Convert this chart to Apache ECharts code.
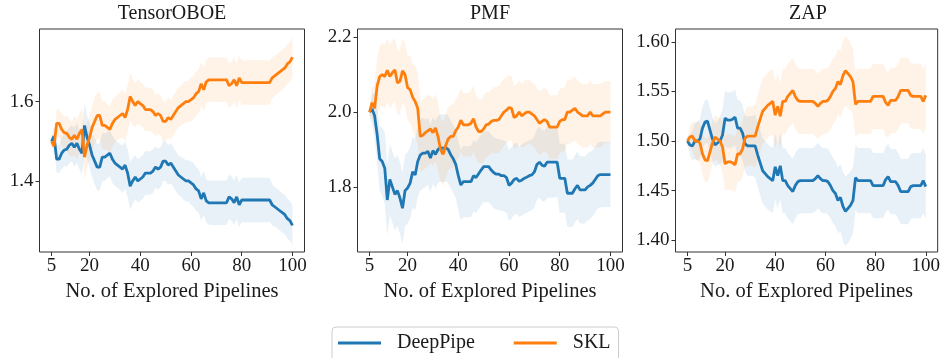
<!DOCTYPE html>
<html>
<head>
<meta charset="utf-8">
<script src="https://cdn.jsdelivr.net/npm/echarts@6/dist/echarts.min.js"></script>
<style>
html,body{margin:0;padding:0;background:#fff;}
#chart{width:943px;height:358px;}
</style>
</head>
<body>
<div id="chart"></div>
<script>
// x: number of explored pipelines (5..100)
const pipelines = Array.from({length: 96}, (_, i) => i + 5);
const xTicks = [5, 20, 40, 60, 80, 100];
const panelTitles = ['TensorOBOE', 'PMF', 'ZAP'];
const seriesNames = ['DeepPipe', 'SKL'];

// ---- TensorOBOE ----
const oboeSKL = [
  1.500,1.487,1.545,1.545,1.530,1.522,1.520,1.510,1.505,1.515,
  1.505,1.520,1.530,1.460,1.490,1.510,1.535,1.550,1.565,1.565,
  1.540,1.540,1.535,1.530,1.545,1.555,1.560,1.565,1.570,1.560,
  1.580,1.613,1.600,1.590,1.600,1.595,1.590,1.580,1.580,1.580,
  1.575,1.565,1.570,1.565,1.550,1.550,1.560,1.555,1.565,1.575,
  1.585,1.590,1.595,1.600,1.600,1.605,1.610,1.620,1.625,1.645,
  1.630,1.650,1.655,1.655,1.655,1.655,1.655,1.655,1.655,1.655,
  1.640,1.645,1.655,1.640,1.660,1.648,1.648,1.648,1.648,1.648,
  1.648,1.648,1.648,1.648,1.648,1.648,1.648,1.660,1.665,1.670,
  1.675,1.680,1.685,1.695,1.700,1.712];
const oboeDeepPipe = [
  1.500,1.513,1.455,1.455,1.470,1.478,1.480,1.490,1.495,1.485,
  1.495,1.480,1.470,1.540,1.510,1.490,1.465,1.450,1.435,1.435,
  1.460,1.460,1.465,1.470,1.455,1.445,1.440,1.435,1.430,1.440,
  1.420,1.387,1.400,1.410,1.400,1.405,1.410,1.420,1.420,1.420,
  1.425,1.435,1.430,1.435,1.450,1.450,1.440,1.445,1.435,1.425,
  1.415,1.410,1.405,1.400,1.400,1.395,1.390,1.380,1.375,1.355,
  1.370,1.350,1.345,1.345,1.345,1.345,1.345,1.345,1.345,1.345,
  1.360,1.355,1.345,1.360,1.340,1.352,1.352,1.352,1.352,1.352,
  1.352,1.352,1.352,1.352,1.352,1.352,1.352,1.340,1.335,1.330,
  1.325,1.320,1.315,1.305,1.300,1.288];
const oboeErr = [
  0.010,0.025,0.035,0.035,0.040,0.040,0.045,0.045,0.045,0.050,
  0.050,0.050,0.055,0.057,0.055,0.055,0.055,0.058,0.058,0.060,
  0.060,0.060,0.058,0.058,0.060,0.058,0.058,0.058,0.060,0.060,
  0.060,0.060,0.058,0.055,0.055,0.055,0.055,0.055,0.055,0.055,
  0.055,0.052,0.052,0.050,0.050,0.050,0.050,0.050,0.050,0.050,
  0.050,0.050,0.052,0.052,0.052,0.055,0.055,0.055,0.055,0.055,
  0.055,0.055,0.055,0.056,0.056,0.056,0.056,0.056,0.056,0.056,
  0.056,0.056,0.056,0.056,0.056,0.056,0.056,0.056,0.056,0.056,
  0.056,0.056,0.056,0.056,0.056,0.056,0.055,0.052,0.050,0.050,
  0.050,0.050,0.050,0.050,0.050,0.050];

// ---- PMF ----
const pmfSKL = [
  2.000,2.025,2.010,2.070,2.095,2.100,2.095,2.112,2.095,2.105,
  2.113,2.078,2.082,2.110,2.100,2.065,2.060,2.040,2.028,2.010,
  1.935,1.938,1.945,1.950,1.955,1.945,1.958,1.935,1.900,1.887,
  1.910,1.928,1.935,1.935,1.950,1.960,1.978,1.966,1.966,1.966,
  1.970,1.982,1.960,1.948,1.948,1.955,1.966,1.968,1.975,1.978,
  1.978,1.980,1.990,2.000,2.005,2.012,2.010,1.985,1.990,2.000,
  1.990,1.995,2.000,2.000,1.995,1.990,1.980,1.970,1.975,1.980,
  1.975,1.960,1.960,1.960,1.960,1.975,1.980,1.980,2.000,2.000,
  2.005,2.010,2.000,1.995,1.990,1.990,1.990,2.000,1.990,1.990,
  1.990,1.990,1.995,2.000,2.000,2.000];
const pmfDeepPipe = [
  2.000,2.008,1.990,1.940,1.875,1.868,1.850,1.765,1.820,1.800,
  1.780,1.790,1.770,1.743,1.790,1.797,1.810,1.840,1.832,1.868,
  1.885,1.890,1.890,1.895,1.877,1.897,1.887,1.900,1.905,1.903,
  1.905,1.900,1.886,1.875,1.860,1.830,1.805,1.814,1.814,1.814,
  1.814,1.830,1.825,1.835,1.845,1.854,1.854,1.854,1.845,1.838,
  1.834,1.834,1.830,1.830,1.825,1.804,1.810,1.820,1.823,1.815,
  1.818,1.823,1.826,1.830,1.832,1.840,1.860,1.866,1.858,1.855,
  1.866,1.866,1.866,1.866,1.866,1.823,1.823,1.823,1.783,1.783,
  1.783,1.795,1.804,1.792,1.792,1.792,1.800,1.804,1.810,1.820,
  1.830,1.833,1.833,1.833,1.833,1.833];
const pmfSKLErr = [
  0.010,0.040,0.060,0.075,0.080,0.085,0.085,0.085,0.085,0.085,
  0.085,0.085,0.085,0.085,0.085,0.085,0.090,0.090,0.095,0.095,
  0.095,0.095,0.095,0.095,0.090,0.090,0.090,0.090,0.085,0.085,
  0.085,0.085,0.085,0.085,0.085,0.085,0.085,0.085,0.085,0.085,
  0.088,0.088,0.085,0.085,0.085,0.088,0.088,0.085,0.085,0.088,
  0.088,0.090,0.090,0.090,0.088,0.088,0.085,0.085,0.085,0.085,
  0.085,0.088,0.088,0.085,0.085,0.085,0.085,0.085,0.085,0.085,
  0.085,0.085,0.085,0.085,0.085,0.085,0.085,0.085,0.085,0.085,
  0.085,0.085,0.085,0.085,0.085,0.085,0.085,0.085,0.085,0.085,
  0.085,0.085,0.085,0.083,0.083,0.083];
const pmfDeepPipeErr = [
  0.010,0.040,0.060,0.075,0.085,0.090,0.095,0.095,0.095,0.095,
  0.095,0.095,0.095,0.095,0.095,0.095,0.095,0.095,0.095,0.095,
  0.095,0.095,0.090,0.090,0.090,0.090,0.090,0.090,0.090,0.090,
  0.090,0.090,0.090,0.090,0.090,0.092,0.095,0.095,0.095,0.095,
  0.095,0.095,0.095,0.095,0.095,0.095,0.095,0.095,0.095,0.095,
  0.095,0.095,0.095,0.095,0.095,0.095,0.095,0.095,0.095,0.095,
  0.095,0.095,0.095,0.095,0.095,0.095,0.095,0.095,0.095,0.095,
  0.095,0.095,0.095,0.095,0.092,0.092,0.092,0.092,0.090,0.090,
  0.090,0.090,0.090,0.090,0.090,0.090,0.090,0.090,0.088,0.088,
  0.088,0.088,0.087,0.087,0.087,0.087];

// ---- ZAP ----
const zapSKL = [
  1.500,1.504,1.505,1.500,1.500,1.498,1.487,1.481,1.480,1.489,
  1.498,1.504,1.502,1.500,1.494,1.477,1.479,1.479,1.478,1.476,
  1.487,1.487,1.492,1.503,1.505,1.505,1.505,1.505,1.514,1.522,
  1.530,1.533,1.536,1.538,1.540,1.526,1.535,1.525,1.540,1.540,
  1.545,1.548,1.551,1.545,1.541,1.540,1.540,1.540,1.540,1.540,
  1.540,1.538,1.535,1.538,1.540,1.540,1.541,1.545,1.550,1.553,
  1.560,1.557,1.566,1.571,1.568,1.565,1.560,1.537,1.540,1.540,
  1.540,1.540,1.540,1.540,1.545,1.545,1.545,1.545,1.545,1.539,
  1.536,1.541,1.541,1.541,1.545,1.551,1.551,1.551,1.551,1.546,
  1.545,1.545,1.545,1.545,1.540,1.546];
const zapDeepPipe = [
  1.500,1.496,1.495,1.500,1.500,1.502,1.513,1.519,1.520,1.511,
  1.502,1.496,1.498,1.500,1.506,1.523,1.521,1.521,1.522,1.524,
  1.513,1.513,1.508,1.497,1.495,1.495,1.495,1.495,1.486,1.478,
  1.470,1.467,1.464,1.462,1.460,1.474,1.465,1.475,1.460,1.460,
  1.455,1.452,1.449,1.455,1.459,1.460,1.460,1.460,1.460,1.460,
  1.460,1.462,1.465,1.462,1.460,1.460,1.459,1.455,1.450,1.447,
  1.440,1.443,1.434,1.429,1.432,1.435,1.440,1.463,1.460,1.460,
  1.460,1.460,1.460,1.460,1.455,1.455,1.455,1.455,1.455,1.461,
  1.464,1.459,1.459,1.459,1.455,1.449,1.449,1.449,1.449,1.454,
  1.455,1.455,1.455,1.455,1.460,1.454];
const zapErr = [
  0.004,0.010,0.015,0.018,0.020,0.020,0.021,0.022,0.022,0.022,
  0.022,0.022,0.022,0.024,0.026,0.028,0.028,0.028,0.028,0.028,
  0.028,0.028,0.028,0.028,0.030,0.030,0.030,0.032,0.032,0.033,
  0.033,0.033,0.033,0.033,0.033,0.033,0.033,0.033,0.033,0.033,
  0.033,0.033,0.033,0.033,0.033,0.033,0.033,0.033,0.033,0.033,
  0.033,0.033,0.033,0.033,0.033,0.033,0.033,0.033,0.033,0.033,
  0.033,0.034,0.035,0.035,0.035,0.034,0.033,0.033,0.033,0.033,
  0.033,0.033,0.033,0.033,0.033,0.033,0.033,0.033,0.033,0.033,
  0.033,0.033,0.033,0.033,0.033,0.033,0.033,0.033,0.033,0.033,
  0.033,0.033,0.033,0.033,0.033,0.033];

const panels = [
  {dp: oboeDeepPipe, skl: oboeSKL, dpErr: oboeErr, sklErr: oboeErr, yMin: 1.221, yMax: 1.783, yTicks: [1.4, 1.6], dec: 1},
  {dp: pmfDeepPipe, skl: pmfSKL, dpErr: pmfDeepPipeErr, sklErr: pmfSKLErr, yMin: 1.626, yMax: 2.222, yTicks: [1.8, 2.0, 2.2], dec: 1},
  {dp: zapDeepPipe, skl: zapSKL, dpErr: zapErr, sklErr: zapErr, yMin: 1.388, yMax: 1.613, yTicks: [1.40, 1.45, 1.50, 1.55, 1.60], dec: 2}
];

const FONT = 'Liberation Serif';
const BLUE = '#1f77b4', ORANGE = '#ff7f0e';
const gridLefts = [39.5, 357.5, 675.5];
const gridW = 265, gridTop = 29, gridH = 223;

function bandSeries(k, vals, err, color, name) {
  const data = pipelines.map((x, i) => [x, vals[i] - err[i], vals[i] + err[i]]);
  return {
    type: 'custom', name: name, xAxisIndex: k, yAxisIndex: k, silent: true, z: 1,
    data: data, encode: {x: 0, y: [1, 2]},
    renderItem: function (params, api) {
      if (params.dataIndex !== 0) return null;
      const upper = data.map(d => api.coord([d[0], d[2]]));
      const lower = data.map(d => api.coord([d[0], d[1]])).reverse();
      return {type: 'polygon', shape: {points: upper.concat(lower)},
        style: {fill: color, stroke: null}};
    }
  };
}

const grids = [], xAxes = [], yAxes = [], titles = [], series = [];
panels.forEach((p, k) => {
  grids.push({left: gridLefts[k], top: gridTop, width: gridW, height: gridH, show: true,
    borderColor: '#333', borderWidth: 1, backgroundColor: 'transparent', containLabel: false});
  titles.push({text: panelTitles[k], left: gridLefts[k] + gridW / 2, top: 4, textAlign: 'center', padding: 0,
    textStyle: {fontFamily: FONT, fontSize: 20, fontWeight: 'normal', color: '#1a1a1a'}});
  xAxes.push({type: 'value', gridIndex: k, min: 0.25, max: 104.75,
    name: 'No. of Explored Pipelines', nameLocation: 'middle', nameGap: 26,
    nameTextStyle: {fontFamily: FONT, fontSize: 20.5, color: '#1a1a1a'},
    axisLine: {show: false}, splitLine: {show: false},
    axisTick: {show: true, length: 4, customValues: xTicks, lineStyle: {color: '#333'}},
    axisLabel: {customValues: xTicks, fontFamily: FONT, fontSize: 19, color: '#1a1a1a', margin: 5}});
  yAxes.push({type: 'value', gridIndex: k, min: p.yMin, max: p.yMax,
    axisLine: {show: false}, splitLine: {show: false},
    axisTick: {show: true, length: 4, customValues: p.yTicks, lineStyle: {color: '#333'}},
    axisLabel: {customValues: p.yTicks, fontFamily: FONT, fontSize: 19, color: '#1a1a1a', margin: 6,
      formatter: v => Number(v).toFixed(p.dec)}});

  series.push(bandSeries(k, p.dp, p.dpErr, 'rgba(31,119,180,0.1)', 'band-dp-' + k));
  series.push(bandSeries(k, p.skl, p.sklErr, 'rgba(255,127,14,0.1)', 'band-skl-' + k));
  series.push({type: 'line', name: seriesNames[0], xAxisIndex: k, yAxisIndex: k,
    data: pipelines.map((x, i) => [x, p.dp[i]]), symbol: 'none', color: BLUE,
    lineStyle: {color: BLUE, width: 2.8}, z: 3});
  series.push({type: 'line', name: seriesNames[1], xAxisIndex: k, yAxisIndex: k,
    data: pipelines.map((x, i) => [x, p.skl[i]]), symbol: 'none', color: ORANGE,
    lineStyle: {color: ORANGE, width: 2.8}, z: 4});
});

const chart = echarts.init(document.getElementById('chart'), null, {renderer: 'canvas'});
chart.setOption({
  animation: false,
  backgroundColor: '#fff',
  title: titles,
  grid: grids,
  xAxis: xAxes,
  yAxis: yAxes,
  legend: {
    data: [{name: seriesNames[0], icon: 'rect'}, {name: seriesNames[1], icon: 'rect'}],
    left: 332, top: 327, orient: 'horizontal',
    padding: [6, 8, 16, 6], itemWidth: 43, itemHeight: 3, itemGap: 39,
    borderColor: '#cccccc', borderWidth: 1, borderRadius: 4, backgroundColor: '#fff',
    selectedMode: false,
    textStyle: {fontFamily: FONT, fontSize: 20, color: '#1a1a1a', padding: [0, 0, 0, 11]}
  },
  series: series
});
</script>
</body>
</html>
